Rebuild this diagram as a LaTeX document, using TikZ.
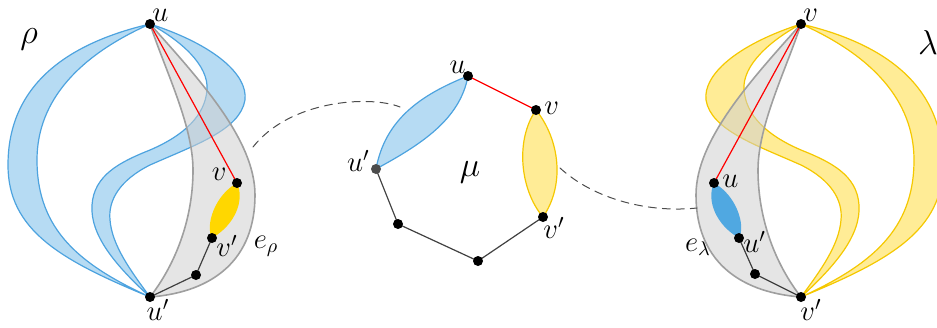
\documentclass[tikz,border=0pt]{standalone}
\usepackage{tikz}

\definecolor{bandblue}{RGB}{182,219,243}
\definecolor{edgeblue}{RGB}{77,163,223}
\definecolor{bandyellow}{RGB}{255,236,150}
\definecolor{edgeyellow}{RGB}{245,200,0}
\definecolor{lensgold}{RGB}{255,215,0}
\definecolor{lensblue}{RGB}{80,168,225}
\definecolor{regiongray}{RGB}{208,208,208}

\tikzset{
  band/.style={line width=0.6pt},
  region/.style={fill=regiongray,fill opacity=0.55,draw=gray!75,line width=0.8pt},
  treeedge/.style={black!75,line width=0.6pt},
  virtedge/.style={red,line width=0.6pt},
  link/.style={dashed,dash pattern=on 4pt off 3pt,black!70,line width=0.5pt},
  lbl/.style={font=\Large,inner sep=1pt},
  big/.style={font=\fontsize{19}{21}\selectfont}
}

% one skeleton piece: outer band, s-band, virtual edge region, inner lens
\newcommand{\drawlobes}[3]{%
  \filldraw[band,fill=#1,draw=#2] (150,24) .. controls (60,45) and (8,90) .. (8,165)
    .. controls (8,230) and (60,260) .. (150,297)
    .. controls (80,265) and (37,230) .. (37,160)
    .. controls (37,100) and (80,55) .. cycle;
  \filldraw[band,fill=#1,draw=#2] (150,24) .. controls (215,45) and (248,75) .. (245,100)
    .. controls (240,130) and (195,145) .. (150,165)
    .. controls (120,180) and (108,200) .. (110,220)
    .. controls (112,245) and (130,270) .. (150,297)
    .. controls (115,265) and (90,235) .. (92,205)
    .. controls (94,175) and (120,162) .. (150,150)
    .. controls (185,135) and (205,115) .. (207,90)
    .. controls (209,65) and (180,40) .. cycle;
  \filldraw[region] (150,24) .. controls (165,70) and (193,125) .. (193,170)
    .. controls (193,220) and (175,265) .. (150,297)
    .. controls (215,292) and (255,258) .. (255,195)
    .. controls (255,140) and (200,80) .. cycle;
  \fill[#3] (237,183) .. controls (215,195) and (205,225) .. (212,238)
    .. controls (235,225) and (245,200) .. cycle;
}

\begin{document}
\begin{tikzpicture}[x=0.5pt,y=-0.5pt,line join=round,line cap=round]
  \useasboundingbox (0,0) rectangle (937,327);

  % rho
  \coordinate (rU) at (150,24);
  \coordinate (rUp) at (150,297);
  \coordinate (rV) at (237,183);
  \coordinate (rVp) at (212,238);
  \coordinate (rW) at (196,275);
  \drawlobes{bandblue}{edgeblue}{lensgold}
  \draw[virtedge] (rU)--(rV);
  \draw[treeedge] (rVp)--(rW)--(rUp);
  \fill (rU) circle (2.5pt) node[lbl,above right=0pt] {$u$};
  \fill (rUp) circle (2.5pt) node[lbl,below=0pt,xshift=4pt] {$u'$};
  \fill (rV) circle (2.5pt) node[lbl,above left=0pt,xshift=-4pt] {$v$};
  \fill (rVp) circle (2.5pt) node[lbl,right=1pt,yshift=-4pt] {$v'$};
  \fill (rW) circle (2.5pt);
  \node[big] (rho) at (29,39) {$\rho$};
  \node[lbl] (erho) at (266,246) {$e_\rho$};

  % lambda (mirror of rho)
  \begin{scope}[xshift=475.5pt,xscale=-1]
    \drawlobes{bandyellow}{edgeyellow}{lensblue}
  \end{scope}
  \coordinate (lV) at (801,24);
  \coordinate (lVp) at (801,297);
  \coordinate (lU) at (714,183);
  \coordinate (lUp) at (739,238);
  \coordinate (lW) at (755,274);
  \draw[virtedge] (lV)--(lU);
  \draw[treeedge] (lUp)--(lW)--(lVp);
  \fill (lV) circle (2.5pt) node[lbl,above right=0pt] {$v$};
  \fill (lVp) circle (2.5pt) node[lbl,below=0pt,xshift=5pt] {$v'$};
  \fill (lU) circle (2.5pt) node[lbl,right=3pt,yshift=1pt] {$u$};
  \fill (lUp) circle (2.5pt) node[lbl,right=1pt,yshift=-2pt] {$u'$};
  \fill (lW) circle (2.5pt);
  \node[big] (lambda) at (928,42) {$\lambda$};
  \node[lbl] (elambda) at (698,247) {$e_\lambda$};

  % mu
  \coordinate (mU) at (468,76);
  \coordinate (mV) at (536,110);
  \coordinate (mVp) at (543,217);
  \coordinate (mB) at (478,261);
  \coordinate (mA) at (398,224);
  \coordinate (mUp) at (376,169);
  \filldraw[band,fill=bandblue,draw=edgeblue] (mUp) .. controls (385,120) and (420,95) .. (mU)
    .. controls (460,120) and (420,145) .. (mUp);
  \filldraw[band,fill=bandyellow,draw=edgeyellow] (mV) .. controls (515,140) and (520,190) .. (mVp)
    .. controls (565,185) and (560,140) .. (mV);
  \draw[virtedge] (mU)--(mV);
  \draw[treeedge] (mUp)--(mA)--(mB)--(mVp);
  \fill (mU) circle (2.5pt) node[lbl,above left=0pt] {$u$};
  \fill (mV) circle (2.5pt) node[lbl,right=3pt,yshift=1pt] {$v$};
  \fill[black!70] (mUp) circle (2.5pt) node[lbl,black,left=2pt,yshift=4pt] {$u'$};
  \fill (mVp) circle (2.5pt) node[lbl,below right=-1pt] {$v'$};
  \fill (mA) circle (2.5pt);
  \fill (mB) circle (2.5pt);
  \node[big] (mu) at (470,172) {$\mu$};

  % links between pieces
  \coordinate (lnkR) at (253,147);
  \coordinate (lnkMa) at (400,107);
  \coordinate (lnkMb) at (560,168);
  \coordinate (lnkL) at (697,208);
  \draw[link] (lnkR) .. controls (290,100) and (370,95) .. (lnkMa);
  \draw[link] (lnkMb) .. controls (595,200) and (650,213) .. (lnkL);
\end{tikzpicture}
\end{document}
